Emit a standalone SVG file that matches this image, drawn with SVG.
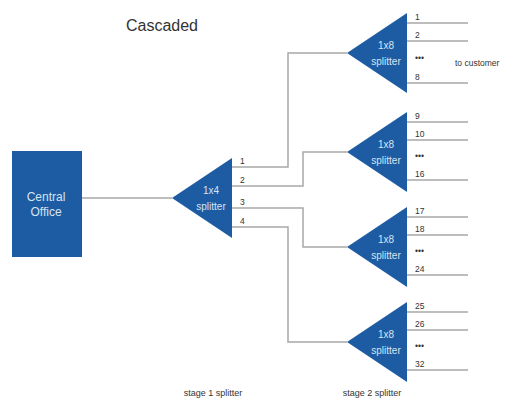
<svg xmlns="http://www.w3.org/2000/svg" width="516" height="405" viewBox="0 0 516 405">
<style>
.node{fill:#1d5ca3}
.ln{fill:none;stroke:#a8a8a8;stroke-width:1.5}
.w{fill:#d6e4f2;font-family:"Liberation Sans",Arial,sans-serif;text-anchor:middle}
.lbl{fill:#333;font-family:"Liberation Sans",Arial,sans-serif;font-size:8.5px}
.cap{fill:#333;font-family:"Liberation Sans",Arial,sans-serif;font-size:9px;text-anchor:middle}
</style>
<rect width="516" height="405" fill="#fff"/>
<text x="162" y="31" fill="#333" font-family="'Liberation Sans',Arial,sans-serif" font-size="16" text-anchor="middle">Cascaded</text>
<g id="connectors">
<path class="ln" d="M82 198H172"/>
<path class="ln" d="M232 167H288V53H347"/>
<path class="ln" d="M232 186H303V152H347"/>
<path class="ln" d="M232 208H303V247H347"/>
<path class="ln" d="M232 227H288V342H347"/>
<path class="ln" d="M407 23H468M407 41H468M407 83H468"/>
<path class="ln" d="M407 122H468M407 140H468M407 180H468"/>
<path class="ln" d="M407 217H468M407 235H468M407 275H468"/>
<path class="ln" d="M407 312H468M407 330H468M407 370H468"/>
</g>
<g id="central-office">
<rect class="node" x="12" y="151" width="70" height="106"/>
<text class="w" x="46" y="201" font-size="12">Central</text>
<text class="w" x="46" y="216" font-size="12">Office</text>
</g>
<g id="splitter-1x4">
<polygon class="node" points="172,198 232,158 232,238"/>
<text class="w" x="211" y="194" font-size="10">1x4</text>
<text class="w" x="211" y="210" font-size="10">splitter</text>
<text class="lbl" x="240" y="164">1</text>
<text class="lbl" x="240" y="183">2</text>
<text class="lbl" x="240" y="205">3</text>
<text class="lbl" x="240" y="224">4</text>
</g>
<g id="splitter-a">
<polygon class="node" points="347,53 407,13 407,93"/>
<text class="w" x="386" y="49" font-size="10">1x8</text>
<text class="w" x="386" y="65" font-size="10">splitter</text>
<text class="lbl" x="415" y="20">1</text>
<text class="lbl" x="415" y="38">2</text>
<text class="lbl" x="415" y="61">•••</text>
<text class="lbl" x="415" y="80">8</text>
</g>
<g id="splitter-b">
<polygon class="node" points="347,152 407,112 407,192"/>
<text class="w" x="386" y="148" font-size="10">1x8</text>
<text class="w" x="386" y="164" font-size="10">splitter</text>
<text class="lbl" x="415" y="119">9</text>
<text class="lbl" x="415" y="137">10</text>
<text class="lbl" x="415" y="159">•••</text>
<text class="lbl" x="415" y="177">16</text>
</g>
<g id="splitter-c">
<polygon class="node" points="347,247 407,207 407,287"/>
<text class="w" x="386" y="243" font-size="10">1x8</text>
<text class="w" x="386" y="259" font-size="10">splitter</text>
<text class="lbl" x="415" y="214">17</text>
<text class="lbl" x="415" y="232">18</text>
<text class="lbl" x="415" y="254">•••</text>
<text class="lbl" x="415" y="272">24</text>
</g>
<g id="splitter-d">
<polygon class="node" points="347,342 407,302 407,382"/>
<text class="w" x="386" y="338" font-size="10">1x8</text>
<text class="w" x="386" y="354" font-size="10">splitter</text>
<text class="lbl" x="415" y="309">25</text>
<text class="lbl" x="415" y="327">26</text>
<text class="lbl" x="415" y="349">•••</text>
<text class="lbl" x="415" y="367">32</text>
</g>
<text class="lbl" x="455" y="66" font-size="10">to customer</text>
<text class="cap" x="213" y="396">stage 1 splitter</text>
<text class="cap" x="372" y="396">stage 2 splitter</text>
</svg>
